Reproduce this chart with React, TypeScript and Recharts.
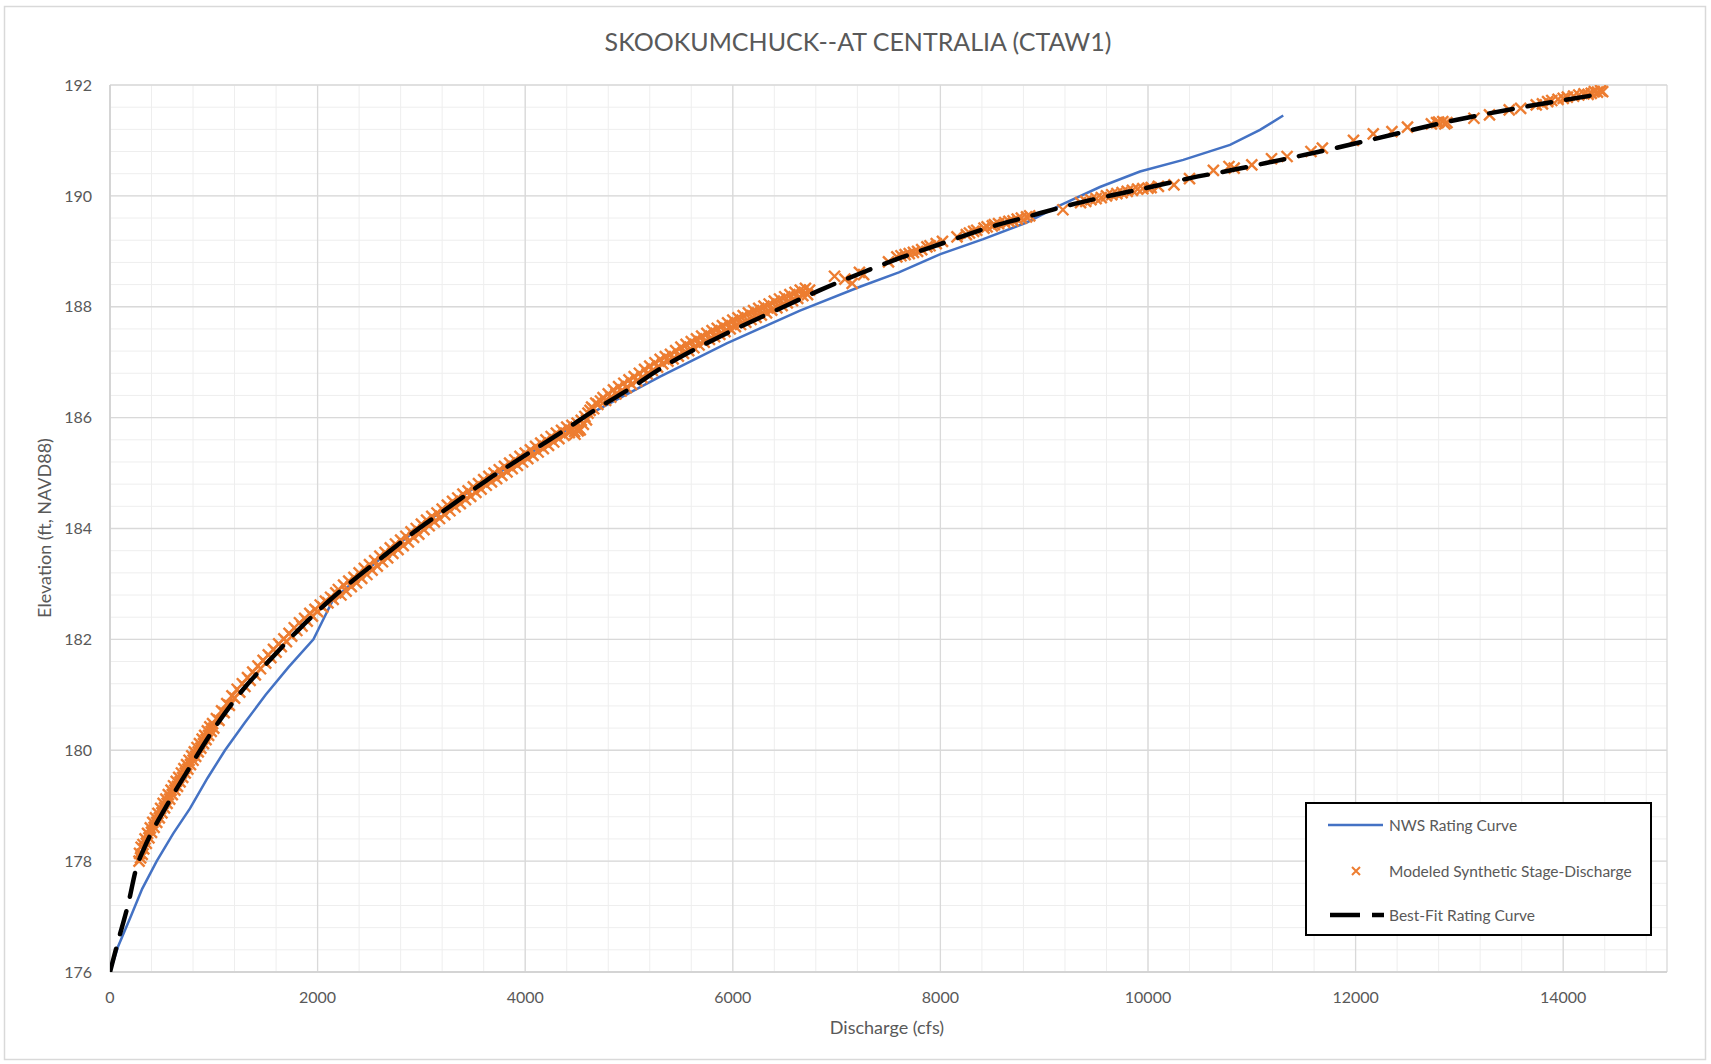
import React from 'react';
import { ComposedChart, Line, Scatter, XAxis, YAxis, CartesianGrid } from 'recharts';

const TITLE = 'SKOOKUMCHUCK--AT CENTRALIA (CTAW1)';
const X_LABEL = 'Discharge (cfs)';
const Y_LABEL = 'Elevation (ft, NAVD88)';

const X_TICKS = [0, 2000, 4000, 6000, 8000, 10000, 12000, 14000];
const Y_TICKS = [176, 178, 180, 182, 184, 186, 188, 190, 192];

// [discharge cfs, elevation ft]
const NWS_CURVE: [number, number][] = [
  [0, 176], [80, 176.47], [200, 177.0], [310, 177.5], [450, 178.0], [610, 178.5],
  [771, 178.95], [940, 179.5], [1108, 180.0], [1300, 180.5], [1500, 181.0], [1720, 181.5],
  [1960, 182.0], [2150, 182.72], [2600, 183.45], [3000, 184.05], [3500, 184.72], [4000, 185.3],
  [4400, 185.78], [4656, 186.1], [5299, 186.74], [5941, 187.34], [6647, 187.93],
  [7225, 188.36], [7600, 188.62], [8000, 188.95], [8413, 189.22], [8831, 189.52],
  [9152, 189.83], [9537, 190.16], [9923, 190.44], [10340, 190.65], [10790, 190.92],
  [11079, 191.19], [11303, 191.45],
];

const MODELED: [number, number][] = [
  // low end, band sits a little above-left of the best-fit line
  [280, 178.0], [285, 178.14], [295, 178.06], [300, 178.25], [310, 178.12], [318, 178.3],
  [325, 178.22], [338, 178.4], [350, 178.32], [362, 178.5], [375, 178.42], [388, 178.6],
  [400, 178.52], [412, 178.7], [425, 178.61], [438, 178.78], [450, 178.7], [462, 178.86],
  [475, 178.78], [488, 178.95], [500, 178.87], [512, 179.04], [525, 178.96], [538, 179.12],
  [550, 179.04], [562, 179.2], [575, 179.12], [588, 179.28], [600, 179.2], [612, 179.36],
  [625, 179.28], [638, 179.44], [650, 179.35], [662, 179.51], [675, 179.43], [688, 179.59],
  [700, 179.51], [712, 179.67], [725, 179.59], [738, 179.74], [750, 179.66], [762, 179.82],
  [775, 179.74], [788, 179.9], [800, 179.82], [812, 179.97], [825, 179.89], [838, 180.05],
  [850, 179.97], [862, 180.12], [875, 180.04], [888, 180.2], [900, 180.12], [912, 180.27],
  [925, 180.19], [938, 180.35], [950, 180.27], [962, 180.42], [975, 180.34], [988, 180.48],
  [1000, 180.4], [1025, 180.57], [1050, 180.54], [1075, 180.71], [1100, 180.68], [1125, 180.84],
  [1150, 180.81], [1175, 180.98], [1200, 180.94], [1225, 181.1], [1250, 181.05], [1275, 181.2],
  [1300, 181.15], [1325, 181.31], [1350, 181.26], [1375, 181.41], [1400, 181.36], [1425, 181.52],
  [1450, 181.47], [1475, 181.62], [1500, 181.57], [1525, 181.72], [1550, 181.67], [1575, 181.82],
  [1600, 181.77], [1625, 181.92], [1650, 181.87], [1675, 182.01], [1700, 181.96], [1725, 182.11],
  [1750, 182.06], [1775, 182.21], [1800, 182.16], [1825, 182.3], [1850, 182.24], [1875, 182.38],
  [1900, 182.33], [1925, 182.47], [1950, 182.42], [1975, 182.54], [2000, 182.5], [2025, 182.62],
  [2050, 182.58], [2075, 182.69], [2100, 182.66], [2125, 182.76], [2150, 182.72], [2175, 182.84],
  // middle, band centred on the line
  [2200, 182.9], [2225, 182.8], [2250, 182.98], [2275, 182.87], [2300, 183.05], [2325, 182.95],
  [2350, 183.12], [2375, 183.02], [2400, 183.2], [2425, 183.1], [2450, 183.28], [2475, 183.17],
  [2500, 183.35], [2525, 183.25], [2550, 183.42], [2575, 183.32], [2600, 183.5], [2625, 183.4],
  [2650, 183.57], [2675, 183.47], [2700, 183.65], [2725, 183.55], [2750, 183.72], [2775, 183.62],
  [2800, 183.79], [2825, 183.69], [2850, 183.86], [2875, 183.76], [2900, 183.94], [2925, 183.84],
  [2950, 184.0], [2975, 183.9], [3000, 184.08], [3025, 183.98], [3050, 184.15], [3075, 184.05],
  [3100, 184.22], [3125, 184.12], [3150, 184.28], [3175, 184.18], [3200, 184.35], [3225, 184.25],
  [3250, 184.42], [3275, 184.32], [3300, 184.49], [3325, 184.39], [3350, 184.55], [3375, 184.45],
  [3400, 184.62], [3425, 184.52], [3450, 184.68], [3475, 184.58], [3500, 184.75], [3525, 184.65],
  [3550, 184.81], [3575, 184.71], [3600, 184.88], [3625, 184.78], [3650, 184.94], [3675, 184.84],
  [3700, 185.0], [3725, 184.9], [3750, 185.06], [3775, 184.96], [3800, 185.12], [3825, 185.02],
  [3850, 185.18], [3875, 185.08], [3900, 185.24], [3925, 185.14], [3950, 185.3], [3975, 185.2],
  [4000, 185.36], [4025, 185.26], [4050, 185.42], [4075, 185.32], [4100, 185.48], [4125, 185.38],
  [4150, 185.54], [4175, 185.44], [4200, 185.6], [4225, 185.5], [4250, 185.66], [4275, 185.56],
  [4300, 185.72], [4325, 185.62], [4350, 185.77], [4375, 185.68], [4400, 185.83], [4425, 185.73],
  [4450, 185.86], [4475, 185.75], [4480, 185.7], [4500, 185.9], [4510, 185.76], [4520, 185.8],
  [4530, 185.78], [4540, 185.95], [4560, 185.88], [4575, 186.02], [4590, 185.96], [4605, 186.08],
  // upper middle, band above the line again
  [4625, 186.13], [4640, 186.19], [4660, 186.16], [4680, 186.26], [4700, 186.24], [4725, 186.3],
  [4750, 186.36], [4775, 186.31], [4800, 186.43], [4825, 186.37], [4850, 186.5], [4875, 186.43],
  [4900, 186.56], [4925, 186.48], [4950, 186.62], [4975, 186.54], [5000, 186.68], [5025, 186.6],
  [5050, 186.74], [5075, 186.66], [5100, 186.8], [5125, 186.72], [5150, 186.87], [5175, 186.79],
  [5200, 186.93], [5225, 186.85], [5250, 186.99], [5275, 186.91], [5300, 187.05], [5325, 186.97],
  [5350, 187.1], [5375, 187.02], [5400, 187.14], [5425, 187.06], [5450, 187.21], [5475, 187.11],
  [5500, 187.27], [5525, 187.16], [5550, 187.32], [5575, 187.21], [5600, 187.37], [5625, 187.26],
  [5650, 187.42], [5675, 187.31], [5700, 187.47], [5725, 187.36], [5750, 187.52], [5775, 187.41],
  [5800, 187.57], [5825, 187.46], [5850, 187.61], [5875, 187.5], [5900, 187.66], [5925, 187.55],
  [5950, 187.71], [5975, 187.6], [6000, 187.76], [6025, 187.64], [6050, 187.8], [6075, 187.68],
  [6100, 187.84], [6125, 187.72], [6150, 187.89], [6175, 187.77], [6200, 187.93], [6225, 187.81],
  [6250, 187.97], [6275, 187.85], [6300, 188.01], [6325, 187.89], [6350, 188.05], [6375, 187.94],
  [6400, 188.1], [6425, 187.98], [6450, 188.14], [6475, 188.02], [6500, 188.18], [6525, 188.07],
  [6550, 188.22], [6575, 188.11], [6600, 188.26], [6625, 188.15], [6650, 188.3], [6675, 188.2],
  [6700, 188.33], [6720, 188.22], [6740, 188.3],
  // sparser upper range
  [6980, 188.55], [7080, 188.5], [7150, 188.42], [7220, 188.62], [7260, 188.58],
  [7500, 188.81], [7580, 188.9], [7620, 188.92], [7660, 188.94], [7700, 188.96], [7740, 188.98],
  [7780, 189.0], [7820, 189.03], [7870, 189.08], [7900, 189.1], [7960, 189.14], [8020, 189.18],
  [8160, 189.26], [8250, 189.3], [8280, 189.33], [8320, 189.36], [8350, 189.38], [8420, 189.42],
  [8450, 189.44], [8500, 189.46], [8520, 189.48], [8560, 189.5], [8620, 189.52], [8660, 189.54],
  [8700, 189.55], [8740, 189.58], [8780, 189.6], [8830, 189.62], [8860, 189.64],
  [9180, 189.75], [9350, 189.88], [9400, 189.9], [9450, 189.93], [9500, 189.95], [9550, 189.97],
  [9600, 190.0], [9650, 190.02], [9700, 190.04], [9750, 190.06], [9800, 190.08], [9850, 190.1],
  [9900, 190.12], [9950, 190.13], [10000, 190.14], [10030, 190.15], [10100, 190.17], [10250, 190.2],
  [10400, 190.31], [10630, 190.46], [10780, 190.53], [10830, 190.5], [11000, 190.56], [11190, 190.67],
  [11340, 190.71], [11570, 190.8], [11680, 190.86], [11980, 191.0], [12170, 191.12], [12350, 191.16],
  [12500, 191.24], [12730, 191.3], [12780, 191.32], [12800, 191.33], [12840, 191.34], [12860, 191.3],
  [12880, 191.32], [13140, 191.4], [13290, 191.46], [13480, 191.55], [13590, 191.58], [13740, 191.64],
  [13800, 191.66], [13850, 191.7], [13890, 191.72], [13950, 191.74], [14000, 191.76], [14040, 191.78],
  [14100, 191.8], [14150, 191.82], [14200, 191.84], [14240, 191.83], [14270, 191.85], [14300, 191.88],
  [14330, 191.87], [14360, 191.9], [14380, 191.88],
];

const BEST_FIT: [number, number][] = [
  [0, 176], [64, 176.46], [177, 177.24], [257, 177.9], [321, 178.2], [546, 179.0],
  [771, 179.7], [995, 180.37], [1284, 181.1], [1541, 181.63], [1830, 182.2], [2119, 182.71],
  [2601, 183.45], [2954, 183.97], [3276, 184.4], [3629, 184.87], [3950, 185.26], [4335, 185.72],
  [4656, 186.12], [5041, 186.56], [5299, 186.88], [5684, 187.28], [6005, 187.58], [6422, 187.94],
  [6840, 188.3], [7225, 188.6], [7611, 188.88], [8028, 189.15], [8413, 189.4], [8831, 189.62],
  [9216, 189.82], [9602, 189.99], [10003, 190.15], [10405, 190.32], [10822, 190.47], [11207, 190.62],
  [11657, 190.8], [12166, 191.02], [12917, 191.35], [13668, 191.62], [14306, 191.82],
];

const toRows = (pts: [number, number][]) => pts.map(([q, e]) => ({ q, e }));

// minor gridlines every 400 cfs / 0.4 ft like the Excel chart
const MINOR_X = Array.from({ length: 38 }, (_, i) => i * 400);
const MINOR_Y = Array.from({ length: 41 }, (_, i) => +(176 + i * 0.4).toFixed(1));

const FONT = 'Lato, "Open Sans", sans-serif';
const TEXT = '#595959';
const BLUE = '#4472C4';
const ORANGE = '#ED7D31';

const XMark = (props: any) => {
  const { cx, cy } = props;
  if (cx == null || cy == null) return null;
  const s = 5.5;
  return (
    <path
      d={`M${cx - s},${cy - s}L${cx + s},${cy + s}M${cx + s},${cy - s}L${cx - s},${cy + s}`}
      stroke={ORANGE}
      strokeWidth={2.4}
      fill="none"
    />
  );
};

function LegendBox() {
  const row = (top: number, icon: React.ReactNode, label: string) => (
    <div style={{ position: 'absolute', left: 0, top, height: 24, width: '100%' }}>
      <svg width={80} height={24} style={{ position: 'absolute', left: 0, top: 0 }}>{icon}</svg>
      <span style={{ position: 'absolute', left: 82, top: 2, fontSize: 15.5, lineHeight: '20px', color: TEXT, whiteSpace: 'nowrap' }}>
        {label}
      </span>
    </div>
  );
  return (
    <div
      style={{
        position: 'absolute', left: 1305, top: 802, width: 347, height: 134,
        boxSizing: 'border-box', border: '2px solid #000', background: '#fff', fontFamily: FONT,
      }}
    >
      {row(9, <line x1={21} x2={76} y1={12} y2={12} stroke={BLUE} strokeWidth={2.5} />, 'NWS Rating Curve')}
      {row(55, <path d="M45,8L53,16M53,8L45,16" stroke={ORANGE} strokeWidth={2} />, 'Modeled Synthetic Stage-Discharge')}
      {row(99, <line x1={23} x2={77} y1={12} y2={12} stroke="#000" strokeWidth={4.5} strokeDasharray="30 12" />, 'Best-Fit Rating Curve')}
    </div>
  );
}

export default function App() {
  return (
    <div style={{ position: 'absolute', left: 0, top: 0, width: 1711, height: 1064, background: '#fff', fontFamily: FONT }}>
      <svg width={1711} height={1064} style={{ position: 'absolute', left: 0, top: 0 }}>
        <rect x={4.5} y={6.5} width={1701} height={1053} fill="#fff" stroke="#d9d9d9" strokeWidth={1.5} />
      </svg>
      <div style={{ position: 'absolute', left: 0, top: 0 }}>
        <ComposedChart width={1711} height={1064} margin={{ top: 85, right: 44, bottom: 62, left: 50 }}>
          <CartesianGrid verticalValues={MINOR_X} horizontalValues={MINOR_Y} stroke="#eeeeee" strokeWidth={1} />
          <CartesianGrid verticalValues={[...X_TICKS, 15000]} horizontalValues={Y_TICKS} stroke="#d9d9d9" strokeWidth={1.3} />
          <XAxis
            type="number"
            dataKey="q"
            domain={[0, 15000]}
            ticks={X_TICKS}
            interval={0}
            allowDataOverflow
            tickLine={false}
            axisLine={{ stroke: '#d0d0d0', strokeWidth: 1.5 }}
            tickSize={6}
            tickMargin={14}
            height={30}
            tick={{ fill: TEXT, fontSize: 16, fontFamily: FONT }}
          />
          <YAxis
            type="number"
            dataKey="e"
            domain={[176, 192]}
            ticks={Y_TICKS}
            interval={0}
            allowDataOverflow
            tickLine={false}
            axisLine={{ stroke: '#d0d0d0', strokeWidth: 1.5 }}
            tickSize={6}
            tickMargin={12}
            width={60}
            tick={{ fill: TEXT, fontSize: 16, fontFamily: FONT }}
          />
          <Line
            data={toRows(NWS_CURVE)}
            dataKey="e"
            type="linear"
            stroke={BLUE}
            strokeWidth={2.5}
            dot={false}
            activeDot={false}
            isAnimationActive={false}
            zIndex={550}
          />
          <Scatter
            data={toRows(MODELED)}
            dataKey="e"
            shape={<XMark />}
            isAnimationActive={false}
            zIndex={600}
          />
          <Line
            data={toRows(BEST_FIT)}
            dataKey="e"
            type="monotone"
            stroke="#000"
            strokeWidth={4.5}
            strokeDasharray="24 15"
            strokeLinecap="round"
            dot={false}
            activeDot={false}
            isAnimationActive={false}
            zIndex={700}
          />
        </ComposedChart>
      </div>
      <svg width={1711} height={1064} style={{ position: 'absolute', left: 0, top: 0, pointerEvents: 'none' }}>
        <text x={858} y={51} textAnchor="middle" fill={TEXT} fontSize={25} fontFamily={FONT}>{TITLE}</text>
        <text x={887} y={1034} textAnchor="middle" fill={TEXT} fontSize={18} fontFamily={FONT}>{X_LABEL}</text>
        <text transform="translate(51,528) rotate(-90)" textAnchor="middle" fill={TEXT} fontSize={18} fontFamily={FONT}>{Y_LABEL}</text>
      </svg>
      <LegendBox />
    </div>
  );
}
